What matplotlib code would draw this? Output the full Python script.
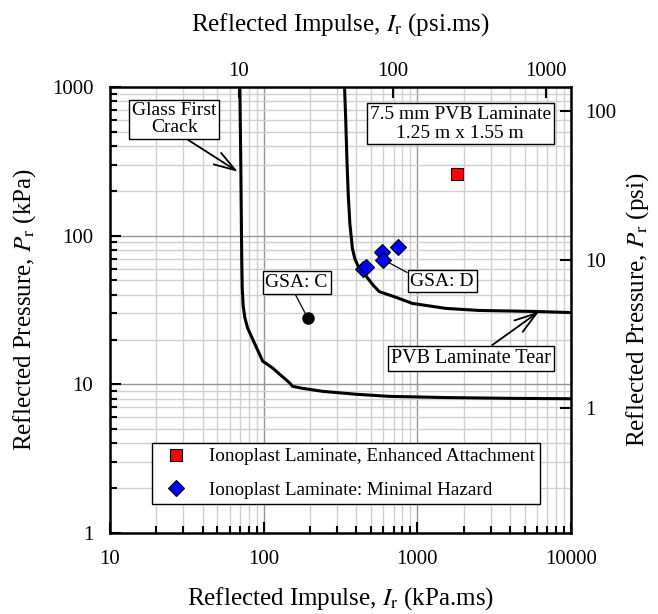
import numpy as np
import matplotlib
matplotlib.use('Agg')
import matplotlib.pyplot as plt
from matplotlib.ticker import FuncFormatter, NullFormatter, NullLocator, FixedLocator

plt.rcParams['font.family'] = ['Liberation Serif', 'DejaVu Serif']
plt.rcParams['mathtext.fontset'] = 'stix'

KPA_PER_PSI = 6.894757

# Glass first crack curve (kPa.ms, kPa)
crack_i = [70, 71, 72, 72.5, 73.5, 75.5, 78.5, 85, 98.6, 113, 127, 148, 154, 179, 242, 402, 658, 1500, 4000, 10000]
crack_p = [1000, 300, 69, 45, 34, 28, 24, 20.0, 14.3, 13.0, 11.7, 10.2, 9.7, 9.4, 8.97, 8.57, 8.3, 8.15, 8.05, 8.0]

# PVB laminate tear curve
tear_i = [336, 342, 348, 355, 364, 378, 392, 410, 435, 467, 520, 566, 731, 929, 1542, 2529, 5930, 10000]
tear_p = [1000, 600, 330, 190, 120, 82, 70, 63, 58, 53, 46, 42, 38.4, 35, 32.4, 31.4, 30.9, 30.4]

# test points
enh_i = [1800]
enh_p = [260]
minhaz_i = [445, 460, 585, 600, 745]
minhaz_p = [60, 62, 78, 69, 84]
gsa_c_i = [193]
gsa_c_p = [28]

psi_ticks = [1, 10, 100]
psims_ticks = [10, 100, 1000]

fig = plt.figure(figsize=(6.58, 6.14), dpi=100)
ax = fig.add_axes([110 / 658, 1 - 533 / 614, 461 / 658, 446 / 614])

ax.plot(crack_i, crack_p, color='black', lw=2.2, zorder=3)
ax.plot(tear_i, tear_p, color='black', lw=2.2, zorder=3)

ax.plot(enh_i, enh_p, 's', ms=8, mfc='#ff0000', mec='black', mew=0.8,
        ls='none', label='Ionoplast Laminate, Enhanced Attachment', zorder=4)
ax.plot(minhaz_i, minhaz_p, 'D', ms=8, mfc='#0000ff', mec='black', mew=0.8,
        ls='none', label='Ionoplast Laminate: Minimal Hazard', zorder=4)
ax.plot(gsa_c_i, gsa_c_p, 'o', ms=8, color='black', ls='none', zorder=4)

ax.set_xscale('log')
ax.set_yscale('log')
ax.set_xlim(10, 10000)
ax.set_ylim(1, 1000)

ax.grid(True, which='major', color='#959595', lw=1.0)
ax.grid(True, which='minor', color='#d0d0d0', lw=1.0)
ax.set_axisbelow(True)

for s in ax.spines.values():
    s.set_linewidth(1.8)
ax.tick_params(which='both', direction='in', top=False, right=False,
               labelsize=15, width=1.5)
ax.tick_params(which='major', length=8, pad=12)
ax.tick_params(which='minor', length=5)
fmt = FuncFormatter(lambda v, p: f'{v:g}')
ax.xaxis.set_major_formatter(fmt)
ax.yaxis.set_major_formatter(fmt)
ax.xaxis.set_minor_formatter(NullFormatter())
ax.yaxis.set_minor_formatter(NullFormatter())

ax.set_xlabel(r'Reflected Impulse, $I_\mathrm{r}$ (kPa.ms)', fontsize=18, labelpad=12)
ax.set_ylabel(r'Reflected Pressure, $P_\mathrm{r}$ (kPa)', fontsize=18, labelpad=10)

# psi axes on top and right
top = ax.twiny()
top.set_xscale('log')
top.set_xlim(10 / KPA_PER_PSI, 10000 / KPA_PER_PSI)
top.xaxis.set_major_locator(FixedLocator(psims_ticks))
top.xaxis.set_major_formatter(fmt)
top.xaxis.set_minor_locator(NullLocator())
top.tick_params(direction='in', length=8, width=1.5, labelsize=15, pad=4)
top.set_xlabel(r'Reflected Impulse, $I_\mathrm{r}$ (psi.ms)', fontsize=18, labelpad=23)

right = ax.twinx()
right.set_yscale('log')
right.set_ylim(1 / KPA_PER_PSI, 1000 / KPA_PER_PSI)
right.yaxis.set_major_locator(FixedLocator(psi_ticks))
right.yaxis.set_major_formatter(fmt)
right.yaxis.set_minor_locator(NullLocator())
right.tick_params(direction='in', length=8, width=1.5, labelsize=15, pad=10)
right.set_ylabel(r'Reflected Pressure, $P_\mathrm{r}$ (psi)', fontsize=18, labelpad=6)
for a in (top, right):
    for s in a.spines.values():
        s.set_visible(False)

box = dict(boxstyle='square,pad=0.15', fc='white', ec='black', lw=1.0)
arrow = dict(arrowstyle='->,head_length=1.1,head_width=0.35', color='black', lw=1.3,
             shrinkA=0, shrinkB=0)
line = dict(arrowstyle='-', color='black', lw=0.9, shrinkA=0, shrinkB=4)

ax.annotate('Glass First\nCrack', xy=(68, 269), xytext=(26.2, 605), fontsize=14,
            ha='center', va='center', bbox=box, arrowprops=dict(arrow, relpos=(0.6, 0)),
            linespacing=1.0, zorder=5)
ax.annotate('PVB Laminate Tear', xy=(6195, 30.9), xytext=(2244, 15.0), fontsize=14.5,
            ha='center', va='center', bbox=box, arrowprops=dict(arrow, relpos=(0.6, 1)),
            zorder=5)
ax.annotate('GSA: C', xy=(gsa_c_i[0], gsa_c_p[0]), xytext=(164, 48.4), fontsize=14,
            ha='center', va='center', bbox=box, arrowprops=dict(line, relpos=(0.45, 0)),
            zorder=5)
ax.annotate('GSA: D', xy=(600, 69), xytext=(1452, 49.5), fontsize=14,
            ha='center', va='center', bbox=box, arrowprops=dict(line, relpos=(0, 0.9)),
            zorder=5)
ax.text(1900, 565, '7.5 mm PVB Laminate\n1.25 m x 1.55 m', fontsize=14,
        ha='center', va='center', bbox=dict(box, pad=0.3), linespacing=1.1, zorder=5)

leg = ax.legend(loc='upper left', bbox_to_anchor=(42 / 461, 90 / 446), borderaxespad=0,
                fontsize=13.8, fancybox=False, edgecolor='black', framealpha=1,
                handletextpad=0.72, borderpad=0.25, labelspacing=0.85, handlelength=2.0)
leg.get_frame().set_linewidth(1.0)
leg.set_zorder(6)

fig.savefig('out.png', dpi=100)
